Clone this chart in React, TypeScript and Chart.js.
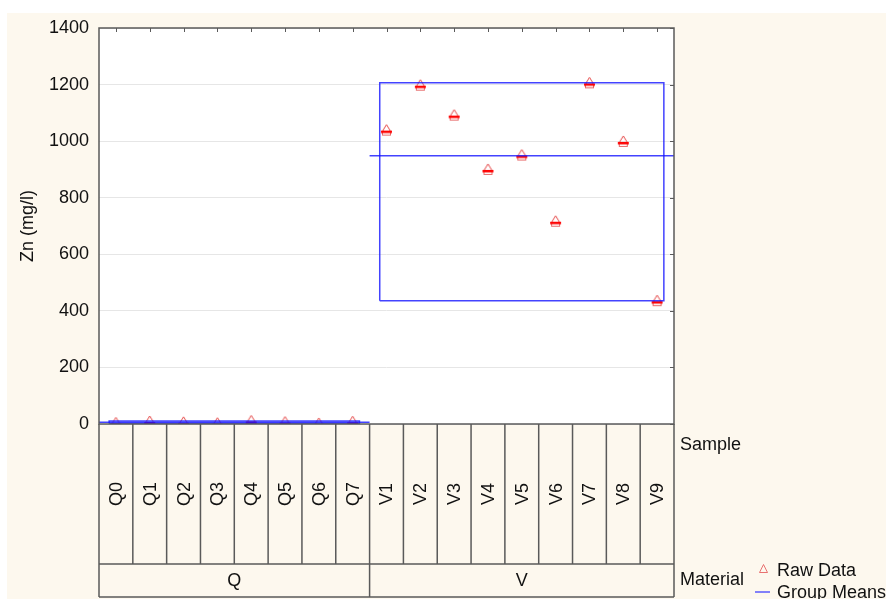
import React, { useEffect, useRef } from 'react';
import { Chart, registerables } from 'chart.js';

Chart.register(...registerables);

// ---- data ----
const samples = ['Q0', 'Q1', 'Q2', 'Q3', 'Q4', 'Q5', 'Q6', 'Q7', 'V1', 'V2', 'V3', 'V4', 'V5', 'V6', 'V7', 'V8', 'V9'];
const sampleMaterial = ['Q', 'Q', 'Q', 'Q', 'Q', 'Q', 'Q', 'Q', 'V', 'V', 'V', 'V', 'V', 'V', 'V', 'V', 'V'];
const materials = ['Q', 'V'];
const znValues = [4, 9, 6, 3, 11, 7, 2, 8, 1039, 1198, 1092, 900, 951, 717, 1206, 999, 436];
const yMin = 0;
const yMax = 1400;
const yStep = 200;
const yTitle = 'Zn (mg/l)';
const legendLabels = ['Raw Data', 'Group Means'];
const rowLabels = ['Sample', 'Material'];

const FONT = '"Liberation Sans", Arial, sans-serif';
const BLUE = 'rgba(20,20,255,0.8)';
const CREAM = '#fdf8ee';
const LINE = '#5a5a5a';

function makeMarker(): HTMLCanvasElement {
  const c = document.createElement('canvas');
  c.width = 13;
  c.height = 13;
  const g = c.getContext('2d')!;
  g.strokeStyle = 'rgba(225,50,50,0.9)';
  g.lineWidth = 1;
  g.beginPath();
  g.moveTo(6.5, 1);
  g.lineTo(10.5, 7.5);
  g.lineTo(2.5, 7.5);
  g.closePath();
  g.stroke();
  g.strokeStyle = 'rgba(225,70,70,0.8)';
  g.strokeRect(2.5, 8.5, 8, 3);
  g.fillStyle = 'rgba(255,0,0,0.95)';
  g.fillRect(1, 7, 11, 2.5);
  return c;
}

export default function App() {
  const ref = useRef<HTMLCanvasElement | null>(null);

  useEffect(() => {
    document.body.style.margin = '0';
    const canvas = ref.current!;
    const marker = makeMarker();

    const datasets: any[] = [];
    materials.forEach((m) => {
      const idx = samples.map((_, i) => i).filter((i) => sampleMaterial[i] === m);
      const vals = idx.map((i) => znValues[i]);
      const lo = Math.min(...vals);
      const hi = Math.max(...vals);
      const mean = vals.reduce((s, v) => s + v, 0) / vals.length;
      const a = idx[0];
      const b = idx[idx.length - 1];
      datasets.push({
        label: 'box ' + m,
        data: [
          { x: a - 0.2, y: lo },
          { x: b + 0.2, y: lo },
          { x: b + 0.2, y: hi },
          { x: a - 0.2, y: hi },
          { x: a - 0.2, y: lo },
        ],
        showLine: true,
        borderColor: BLUE,
        borderWidth: 1.5,
        pointRadius: 0,
        fill: false,
      });
      datasets.push({
        label: 'mean ' + m,
        data: [
          { x: a - 0.5, y: mean },
          { x: b + 0.5, y: mean },
        ],
        showLine: true,
        borderColor: BLUE,
        borderWidth: 1.5,
        pointRadius: 0,
        fill: false,
      });
    });
    datasets.push({
      label: 'Raw Data',
      data: znValues.map((v, i) => ({ x: i, y: v })),
      pointStyle: marker,
      pointRadius: 6,
      showLine: false,
    });

    const framePlugin = {
      id: 'frame',
      beforeDraw(chart: any) {
        const { ctx, chartArea: ca } = chart;
        ctx.save();
        ctx.fillStyle = CREAM;
        ctx.fillRect(7, 13, chart.width - 7, chart.height - 13);
        ctx.fillStyle = '#ffffff';
        ctx.fillRect(ca.left, ca.top, ca.right - ca.left, ca.bottom - ca.top);
        ctx.restore();
      },
      afterDraw(chart: any) {
        const { ctx, chartArea: ca } = chart;
        const xs = chart.scales.x;
        const ys = chart.scales.y;
        ctx.save();
        // frame
        ctx.strokeStyle = LINE;
        ctx.lineWidth = 1.5;
        ctx.strokeRect(ca.left, ca.top, ca.right - ca.left, ca.bottom - ca.top);
        // top ticks (inward)
        ctx.lineWidth = 1;
        ctx.beginPath();
        samples.forEach((_, i) => {
          const x = Math.round(xs.getPixelForValue(i)) + 0.5;
          ctx.moveTo(x, ca.top);
          ctx.lineTo(x, ca.top + 4);
        });
        // right ticks (inward)
        for (let v = yMin; v <= yMax; v += yStep) {
          const y = Math.round(ys.getPixelForValue(v)) + 0.5;
          ctx.moveTo(ca.right, y);
          ctx.lineTo(ca.right - 4, y);
        }
        ctx.stroke();

        // category table
        const row1Top = ca.bottom;
        const row1Bottom = 564;
        const row2Bottom = 597;
        ctx.strokeStyle = LINE;
        ctx.lineWidth = 1.5;
        ctx.beginPath();
        for (let i = 0; i <= samples.length; i++) {
          const x = xs.getPixelForValue(i - 0.5);
          ctx.moveTo(x, row1Top);
          ctx.lineTo(x, row1Bottom);
        }
        ctx.moveTo(ca.left, row1Bottom);
        ctx.lineTo(ca.right, row1Bottom);
        ctx.moveTo(ca.left, row2Bottom);
        ctx.lineTo(ca.right, row2Bottom);
        const bounds: number[] = [];
        materials.forEach((m) => {
          const idx = samples.map((_, i) => i).filter((i) => sampleMaterial[i] === m);
          bounds.push(idx[0] - 0.5, idx[idx.length - 1] + 0.5);
        });
        Array.from(new Set(bounds)).forEach((b) => {
          const x = xs.getPixelForValue(b);
          ctx.moveTo(x, row1Bottom);
          ctx.lineTo(x, row2Bottom);
        });
        ctx.stroke();

        ctx.fillStyle = '#111';
        ctx.font = '18px ' + FONT;
        ctx.textAlign = 'center';
        ctx.textBaseline = 'middle';
        samples.forEach((s, i) => {
          const x = xs.getPixelForValue(i);
          ctx.save();
          ctx.translate(x + 1, (row1Top + row1Bottom) / 2);
          ctx.rotate(-Math.PI / 2);
          ctx.fillText(s, 0, 0);
          ctx.restore();
        });
        materials.forEach((m) => {
          const idx = samples.map((_, i) => i).filter((i) => sampleMaterial[i] === m);
          const x0 = xs.getPixelForValue(idx[0] - 0.5);
          const x1 = xs.getPixelForValue(idx[idx.length - 1] + 0.5);
          ctx.fillText(m, (x0 + x1) / 2, (row1Bottom + row2Bottom) / 2 + 1);
        });

        // row labels
        ctx.textAlign = 'left';
        ctx.fillText(rowLabels[0], ca.right + 6, 445);
        ctx.fillText(rowLabels[1], ca.right + 6, 580);

        // legend
        ctx.strokeStyle = 'rgba(228,90,90,0.85)';
        ctx.lineWidth = 1;
        ctx.beginPath();
        ctx.moveTo(763.5, 564.5);
        ctx.lineTo(767.5, 572.5);
        ctx.lineTo(759.5, 572.5);
        ctx.closePath();
        ctx.stroke();
        ctx.strokeStyle = 'rgba(60,60,255,0.85)';
        ctx.lineWidth = 1.5;
        ctx.beginPath();
        ctx.moveTo(755, 592);
        ctx.lineTo(770, 592);
        ctx.stroke();
        ctx.fillStyle = '#111';
        ctx.fillText(legendLabels[0], 777, 571);
        ctx.fillText(legendLabels[1], 777, 593);
        ctx.restore();
      },
    };

    const chart = new Chart(canvas, {
      type: 'scatter',
      data: { datasets },
      options: {
        animation: false,
        responsive: false,
        layout: { padding: { top: 28, right: 212, bottom: 175, left: 0 } },
        plugins: {
          legend: { display: false },
          tooltip: { enabled: false },
        },
        scales: {
          x: {
            type: 'linear',
            min: -0.5,
            max: samples.length - 0.5,
            display: false,
          },
          y: {
            type: 'linear',
            min: yMin,
            max: yMax,
            ticks: {
              stepSize: yStep,
              color: '#111',
              font: { family: FONT, size: 18 },
              padding: 10,
              callback: (v: any) => String(v),
            },
            grid: { color: '#e6e6e6', lineWidth: 1, drawTicks: false },
            border: { display: false },
            title: {
              display: true,
              text: yTitle,
              color: '#111',
              font: { family: FONT, size: 18 },
              padding: { top: 17, bottom: 0 },
            },
            afterFit(scale: any) {
              scale.width = 99;
            },
          },
        },
      },
      plugins: [framePlugin],
    });
    return () => chart.destroy();
  }, []);

  return (
    <div style={{ width: 886, height: 599, overflow: 'hidden' }}>
      <canvas ref={ref} width={886} height={599} style={{ display: 'block' }} />
    </div>
  );
}
